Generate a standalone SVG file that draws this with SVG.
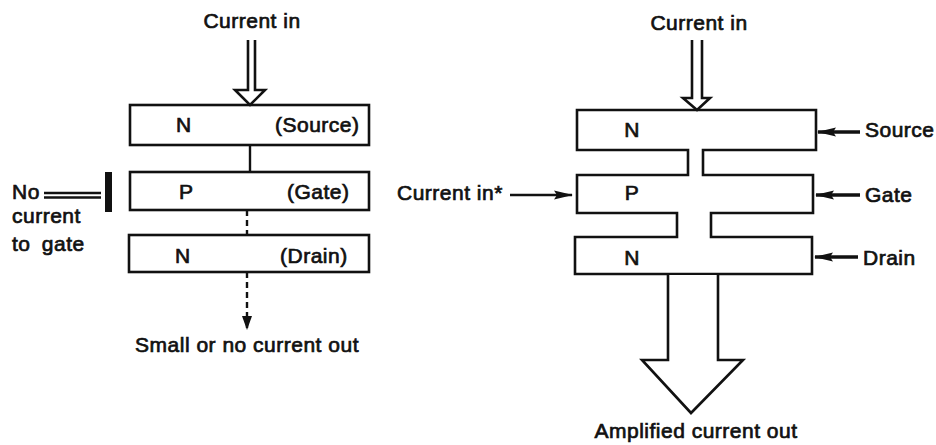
<svg xmlns="http://www.w3.org/2000/svg" width="936" height="445" viewBox="0 0 936 445">
<style>
.t{font-family:"Liberation Sans",Arial,sans-serif;font-size:21px;fill:#111;stroke:#111;stroke-width:0.7;letter-spacing:0.5px}
.m{text-anchor:middle}
.b{fill:#fff;stroke:#111;stroke-width:2.6;stroke-linejoin:miter}
.l{fill:none;stroke:#111;stroke-width:2.4}
.s{fill:none;stroke:#111;stroke-width:3.4}
.d{fill:none;stroke:#111;stroke-width:2.4;stroke-dasharray:6 4}
</style>
<defs>
<marker id="ah" markerUnits="userSpaceOnUse" markerWidth="14" markerHeight="10" refX="13" refY="5" orient="auto">
<path d="M0,0 L14,5 L0,10 Z" fill="#111"/>
</marker>
<marker id="ahs" markerUnits="userSpaceOnUse" markerWidth="19" markerHeight="10" refX="18" refY="5" orient="auto">
<path d="M0,0.5 L19,5 L0,9.5 L3,5 Z" fill="#111"/>
</marker>
</defs>
<rect width="936" height="445" fill="#fff"/>

<!-- Left diagram -->
<g id="left-source">
<rect class="b" x="130" y="105" width="239" height="40"/>
<text class="t" x="176" y="132">N</text>
<text class="t" x="275" y="132">(Source)</text>
</g>
<g id="left-gate">
<rect class="b" x="130" y="172" width="239" height="38"/>
<text class="t" x="179" y="199">P</text>
<text class="t" x="287" y="199">(Gate)</text>
</g>
<g id="left-drain">
<rect class="b" x="129" y="235" width="240" height="37"/>
<text class="t" x="175" y="263">N</text>
<text class="t" x="280" y="263">(Drain)</text>
</g>
<g id="left-labels">
<text class="t m" x="252" y="28">Current in</text>
<text class="t" x="12" y="199">No</text>
<text class="t" x="12" y="223">current</text>
<text class="t" x="12" y="251" word-spacing="5">to gate</text>
<text class="t m" x="247" y="352">Small or no current out</text>
</g>

<!-- Right diagram -->
<g id="right-transistor">
<path class="b" d="M577,110 H816 V150 H703 V175 H813 V213 H711 V237 H812 V274 H575 V237 H677 V213 H577 V175 H688 V150 H577 Z"/>
<text class="t m" x="632" y="137">N</text>
<text class="t m" x="632" y="200">P</text>
<text class="t m" x="632" y="265">N</text>
</g>
<g id="right-labels">
<text class="t m" x="699" y="30">Current in</text>
<text class="t" x="397" y="200">Current in*</text>
<text class="t" x="865" y="137">Source</text>
<text class="t" x="865" y="202">Gate</text>
<text class="t" x="863" y="265">Drain</text>
<text class="t m" x="696" y="438">Amplified current out</text>
</g>

<!-- Connectors -->
<g id="connectors">
<path class="b" d="M248,40 V90 H235 L250,105 L265,90 H255 V40"/>
<line class="l" x1="250" y1="145" x2="250" y2="172"/>
<line class="d" x1="247" y1="210" x2="247" y2="235"/>
<line class="d" x1="247" y1="272" x2="247" y2="329" marker-end="url(#ah)"/>
<line class="l" x1="44" y1="193" x2="101" y2="193"/>
<line class="l" x1="44" y1="197.5" x2="101" y2="197.5"/>
<rect x="105" y="172" width="7" height="40" fill="#111"/>

<path class="b" d="M692,40 V98 H683 L697,110 L710,98 H702 V40"/>
<path class="b" d="M668,275 V360 H642 L691,413 L743,360 H718 V275"/>
<line class="l" x1="510" y1="195" x2="572" y2="195" marker-end="url(#ahs)"/>
<line class="s" x1="860" y1="132" x2="818" y2="132" marker-end="url(#ahs)"/>
<line class="s" x1="860" y1="195" x2="816" y2="195" marker-end="url(#ahs)"/>
<line class="s" x1="858" y1="257" x2="815" y2="257" marker-end="url(#ahs)"/>
</g>
</svg>
